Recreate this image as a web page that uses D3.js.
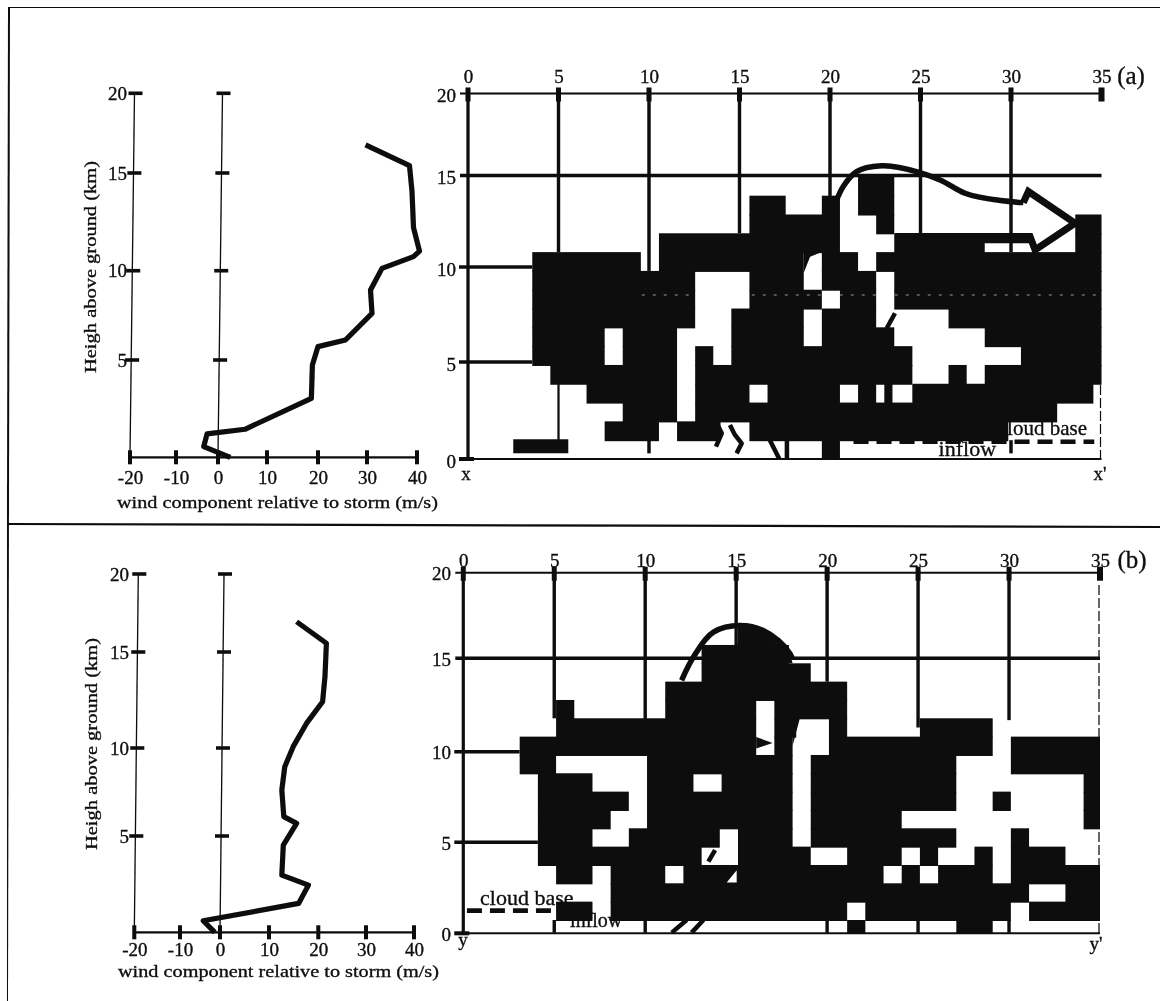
<!DOCTYPE html>
<html><head><meta charset="utf-8">
<script src="https://cdn.jsdelivr.net/npm/d3@7/dist/d3.min.js"></script>
<style>
html,body{margin:0;padding:0;background:#fff}
svg{display:block}
text{font-family:"Liberation Serif",serif;fill:#0a0a0a;stroke:#0a0a0a;stroke-width:0.3px}
</style></head><body><svg id="c" width="1160" height="1001"></svg>
<script>
// wind profiles
const windTicks=[-20,-10,0,10,20,30,40];
const heightTicks=[0,5,10,15,20];
const rangeTicks=[0,5,10,15,20,25,30,35];
const heightA=[16.77,15.46,14.07,12.2,11,10.72,10.12,8.92,7.61,6.12,5.75,4.74,3.03,1.44,1.2,0.55,0];
const windA=[29.7,38.5,39,39.3,40.5,39.3,33,30.7,31,25.6,20,18.9,18.7,5.5,-2.6,-3.4,2.5];
const heightB=[16.94,15.56,13.72,12.41,11.28,10.07,8.94,7.61,6.1,5.72,4.53,2.97,2.45,1.5,0.6,0];
const windB=[15.6,21.7,21.4,20.9,17.6,14.9,13.2,12.6,13,15.6,12.9,12.6,18,16,-4.2,-1.3];
// reflectivity rows: index = height row, entries = column spans
const cloudA=[
 [[19,20]],
 [[7,10],[11,13.4],[15,29.3]],
 [[8,11],[12,32]],
 [[6,11],[12,15],[16,20],[21,22],[22.45,22.9],[24,34]],
 [[4,11],[12,24],[26,27],[28,35]],
 [[3,7],[8,11],[12,13],[14,24],[30,35]],
 [[3,7],[8,11],[14,18],[19,23],[28,35]],
 [[3,12],[14,18],[19,22],[26,35]],
 [[3,12],[15,19],[20,22],[23,35]],
 [[3,12],[15,18],[19,22],[23,35]],
 [[3,9],[10,18],[19,21],[22,35]],
 [[10,20],[23,28],[33,35]],
 [[15,20],[22,23],[33,35]],
 [[15,17],[19,20],[21,23]],
 [[21,23]]
];
const cloudB=[
 [[21,22],[27,29]],
 [[5,7],[8,21],[22,30],[31,35]],
 [[8,31],[33,35]],
 [[5,7],[8,11],[12,23],[24,25],[26,29],[30,35]],
 [[4,13],[15,19],[21,24],[25,26],[28,29],[30,33]],
 [[4,7],[9,14],[15,18],[19,27],[30,31]],
 [[4,8],[10,18],[19,24],[34,35]],
 [[4,9],[10,18],[19,27],[29,30],[34,35]],
 [[4,7],[10,12.55],[14.1,18],[19,27],[34,35]],
 [[3,5],[10,18],[19,27],[30,35]],
 [[3,16],[17,18],[20,29],[30,35]],
 [[5,16],[17,18.2],[20,21],[25,29]],
 [[5,6],[11,16],[17,21]],
 [[11,21]],
 [[13,19]],
 [[13,17.8]]
];
// storm outlines [km, height]
const outlineA=[[20.37,13.78],[20.73,14.49],[21.47,15.28],[22.85,15.59],[24.97,15.23],[26.08,14.84],[27.46,14.13],[30.68,13.63],[30.96,14.22],[33.54,12.54],[31.33,11.12],[31.05,11.83],[23.6,11.83]];
const outlineB=[[12,14.07],[12.65,15.34],[13.75,16.7],[15.21,17.06],[16.49,16.79],[17.96,15.52],[18.1,15.25]];
const fillsA=[[[18.55,11],[19.55,11],[18.9,10.76],[18.55,9.9]],[[2.5,0.3],[5.54,0.3],[5.54,1.05],[2.5,1.05]],[[28.5,11.47],[31.05,11.47],[31.05,12],[28.5,12]]];
const fillsB=[[[15.1,17],[16.49,16.79],[17.96,15.52],[18.1,15],[15.1,15]],[[16.1,10.98],[17,10.66],[16.1,10.35]],[[18.1,10.5],[18.5,12],[18.1,12]]];
const holesB=[[[14.48,3.05],[15.03,3.05],[15.03,3.72]]];
const marksA=[[[13.74,1.9],[14.02,1.37],[13.7,0.66]],[[14.47,1.81],[14.75,1.28],[15.12,0.83],[14.84,0.3]],[[16.68,1],[17.2,0]],[[17.62,1],[17.62,0]],[[23.13,6.95],[23.59,7.75]]];
const marksB=[[[11.46,0.31],[12.28,1]],[[12.55,0.31],[13.2,1]],[[13.47,4.18],[13.84,4.81]]];
// grid line stops
const gridStopsA=[[0,0],[5,11],[10,10],[15,12],[20,13],[25,12],[30,11]];
const gridStopsB=[[0,0],[5,12],[10,11],[15,15],[20,14],[25,11.5],[30,11.9]];
const stemsA=[[5,0.9,4],[10,0.3,1],[30,0.3,1]];
const stemsB=[[5,0.3,1],[10,0.3,1],[20,0.3,1],[25,0.3,1],[30,0.3,1]];
const hLeftA=[[10,3.55],[5,3.55]];
const hLeftB=[[10,3.1],[5,4.1]];

const svg=d3.select('#c');
const defs=svg.append('defs');
defs.append('filter').attr('id','scan').attr('x',0).attr('y',0).attr('width',1).attr('height',1)
 .append('feGaussianBlur').attr('stdDeviation',0.45);
const root=svg.append('g').attr('filter','url(#scan)');
const ink='#0a0a0a';

function seg(g,x1,y1,x2,y2,w,col){return g.append('line').attr('x1',x1).attr('y1',y1).attr('x2',x2).attr('y2',y2).attr('stroke',col||ink).attr('stroke-width',w);}

// frame
seg(root,9,7,1160,7,2);seg(root,9,7,7,1001,2);seg(root,7,524,1160,527,2.2);

function styleAxis(g,size){g.select('.domain').remove();g.selectAll('.tick line').remove();g.selectAll('text').style('font-family','"Liberation Serif",serif').style('font-size',size+'px').attr('fill',ink);}
const plain=d=>String(d);

function profile(p){
 const g=root.append('g');
 const x=d3.scaleLinear().domain(windTicks).range(p.xr);
 const y=d3.scaleLinear().domain(heightTicks).range(p.yr);
 // tilted axes
 [-20,0].forEach(v=>{
  seg(g,x(v),y(0),x(v)+p.tilt,y(20),1.3);
  heightTicks.filter(h=>h>0).forEach(h=>{const cx=x(v)+p.tilt*h/20+1;seg(g,cx-7,y(h),cx+7,y(h),3.6);});
 });
 seg(g,x(-20),y(0),x(40),y(0),2.2);
 windTicks.forEach(v=>seg(g,x(v),y(0)-7,x(v),y(0)+7,4));
 const ax=g.append('g').attr('transform',`translate(0,${y(0)})`).call(d3.axisBottom(x).tickValues(windTicks).tickFormat(plain).tickSize(0).tickPadding(p.bp));
 styleAxis(ax,19);
 const ay=g.append('g').attr('transform',`translate(${p.lx},0)`).call(d3.axisLeft(y).tickValues(heightTicks.filter(h=>h>0)).tickFormat(plain).tickSize(0).tickPadding(0));
 styleAxis(ay,19);
 const line=d3.line().x(i=>x(p.wind[i])).y(i=>y(p.height[i]));
 g.append('path').attr('d',line(d3.range(p.wind.length))).attr('fill','none').attr('stroke',ink).attr('stroke-width',5.2).attr('stroke-linejoin','round');
 g.append('text').attr('x',p.tx).attr('y',p.ty).attr('textLength',321).attr('lengthAdjust','spacingAndGlyphs').style('font-size','17px').text('wind component relative to storm (m/s)');
 g.append('text').attr('transform',`translate(${p.yx},${p.yy}) rotate(-90)`).attr('text-anchor','middle').attr('textLength',212).attr('lengthAdjust','spacingAndGlyphs').style('font-size','17px').text('Heigh above ground (km)');
}
profile({xr:[130,176,218,267,318,367,417],yr:[457.3,360,270.7,173,93.3],tilt:4.5,wind:windA,height:heightA,lx:127,bp:13.2,tx:117,ty:508,yx:96,yy:267});
profile({xr:[134.3,180,220,269,318.3,366,414],yr:[932.3,836,748,652,574],tilt:4,wind:windB,height:heightB,lx:129,bp:9.9,tx:118,ty:976.5,yx:96.7,yy:744});

function section(p){
 const g=root.append('g');
 const x=d3.scaleLinear().domain([0,35]).range(p.xr);
 const y=d3.scaleLinear().domain(heightTicks).range(p.yr);
 const cy=d3.scaleLinear().domain(p.cd).range(p.cr);
 const cid='clip'+p.id;
 defs.append('clipPath').attr('id',cid).append('rect').attr('x',x(0)).attr('y',y(20)).attr('width',x(35)-x(0)).attr('height',y(0)-y(20));
 // grid
 p.stops.forEach(([k,h])=>seg(g,x(k),y(20),x(k),k===0?y(0):cy(h),k===0?3.2:3.4));
 p.stems.forEach(([k,h0,h1])=>seg(g,x(k),cy(h0),x(k),cy(h1),k===5&&p.id==='A'?2.2:3.4));
 rangeTicks.forEach(k=>seg(g,x(k),y(20)-6,x(k),y(20)+8,k===35?6:5));
 seg(g,x(0)-8,y(20),x(35),y(20),2);
 seg(g,x(0)-8,y(15),x(35),y(15),3.6);
 p.left.forEach(([h,k])=>seg(g,x(0)-9,y(h),x(k),y(h),3.4));
 seg(g,x(0)-9,y(0),x(0)+6,y(0),4);
 seg(g,x(0),y(0),x(35),y(0),2);
 seg(g,x(35)-1,p.edgeTop,x(35)-1,y(0),1.2).attr('stroke-dasharray','10 3');
 // cloud cells
 const cells=g.append('g').attr('clip-path',`url(#${cid})`);
 p.cloud.forEach((row,r)=>{
  cells.selectAll(null).data(row).enter().append('rect')
   .attr('x',d=>x(d[0]+p.off)).attr('width',d=>x(d[1]+p.off)-x(d[0]+p.off))
   .attr('y',cy(r+1)).attr('height',cy(r)-cy(r+1)+1).attr('fill',ink);
 });
 const poly=d3.line().x(d=>x(d[0])).y(d=>cy(d[1]));
 p.fills.forEach(f=>g.append('path').attr('d',poly(f)+'Z').attr('fill',ink));
 p.holes.forEach(f=>g.append('path').attr('d',poly(f)+'Z').attr('fill','#fff'));
 p.marks.forEach(m=>g.append('path').attr('d',poly(m)).attr('fill','none').attr('stroke',ink).attr('stroke-width',4.5).attr('stroke-linejoin','round'));
 if(p.speck) seg(g,x(9.6),cy(p.speck),x(35),cy(p.speck),1,'#fff').attr('stroke-dasharray','3 8').attr('stroke-opacity',0.6);
 // outline
 g.append('path').attr('d',d3.line().curve(d3.curveCatmullRom.alpha(0.9)).x(d=>x(d[0])).y(d=>cy(d[1]))(p.outline.slice(0,p.smooth))).attr('fill','none').attr('stroke',ink).attr('stroke-width',5.4);
 if(p.outline.length>p.smooth) g.append('path').attr('d',poly(p.outline.slice(p.smooth-1))).attr('fill','none').attr('stroke',ink).attr('stroke-width',7).attr('stroke-linejoin','miter');
 // dashed cloud base + annotations
 seg(g,x(p.base[0]),cy(p.base[2]),x(p.base[1]),cy(p.base[2]),4.6).attr('stroke-dasharray','15 8');
 g.append('text').attr('x',x(p.cb[0])).attr('y',cy(p.cb[1])).attr('text-anchor',p.cb[2]).style('font-size',p.cb[3]+'px').text('cloud base');
 g.append('text').attr('x',x(p.inf[0])).attr('y',cy(p.inf[1])).style('font-size',p.inf[2]+'px').text('inflow');
 // axes
 const top=g.append('g').attr('transform',`translate(0,${y(20)})`).call(d3.axisTop(x).tickValues(rangeTicks).tickFormat(plain).tickSize(0).tickPadding(p.tp));
 styleAxis(top,19);
 const ly=g.append('g').attr('transform',`translate(${p.lx},${p.ldy})`).call(d3.axisLeft(y).tickValues(heightTicks).tickFormat(plain).tickSize(0).tickPadding(0));
 styleAxis(ly,19);
 p.labels.forEach(([t,lx,ly2,sz])=>g.append('text').attr('x',lx).attr('y',ly2).attr('text-anchor','middle').style('font-size',sz+'px').text(t));
}
section({id:'A',xr:[468,1101.5],yr:[459,362,267,175.5,93.5],cd:[0,14],cr:[459,195.7],off:0.55,cloud:cloudA,
 stops:gridStopsA,stems:stemsA,left:hLeftA,fills:fillsA,holes:[],marks:marksA,outline:outlineA,smooth:8,speck:8.72,edgeTop:385,
 base:[21.3,34.6,0.92],cb:[34.2,1.28,'end',21],inf:[26,0.18,22],tp:10.5,lx:456,ldy:2,
 labels:[['x',466,480,19],["x'",1100,480,19],['(a)',1131,84,25]]});
section({id:'B',xr:[463.3,1100],yr:[933.3,842.3,751.7,658.3,572.7],cd:[1,15],cr:[920,663.3],off:0.1,cloud:cloudB,
 stops:gridStopsB,stems:stemsB,left:hLeftB,fills:fillsB,holes:holesB,marks:marksB,outline:outlineB,smooth:7,speck:0,edgeTop:585,
 base:[0.2,7,1.51],cb:[0.92,1.82,'start',22],inf:[5.87,0.64,20],tp:6,lx:451,ldy:1,
 labels:[['y',463,946,19],["y'",1096,950,19],['(b)',1132,568,25]]});
</script></body></html>
